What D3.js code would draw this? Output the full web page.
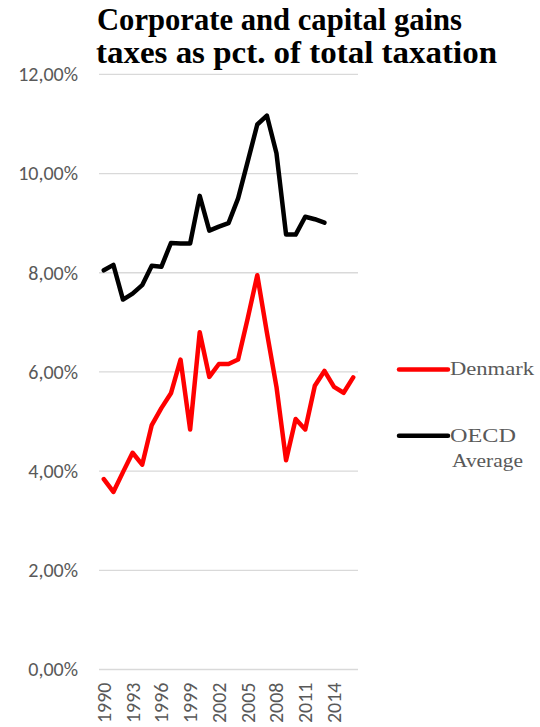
<!DOCTYPE html>
<html>
<head>
<meta charset="utf-8">
<script src="https://cdn.jsdelivr.net/npm/d3@7/dist/d3.min.js"></script>
<style>
  html, body { margin: 0; padding: 0; background: #ffffff; }
  svg { display: block; }
</style>
</head>
<body>
<svg id="chart" width="540" height="727"></svg>
<script>
// Corporate and capital gains taxes, share of total taxation (%)
const years = [1990, 1991, 1992, 1993, 1994, 1995, 1996, 1997, 1998, 1999,
               2000, 2001, 2002, 2003, 2004, 2005, 2006, 2007, 2008, 2009,
               2010, 2011, 2012, 2013, 2014, 2015, 2016];
const denmark = [3.84, 3.58, 3.98, 4.37, 4.13, 4.93, 5.27, 5.57, 6.25, 4.84,
                 6.80, 5.90, 6.16, 6.16, 6.25, 7.08, 7.95, 6.80, 5.70, 4.22,
                 5.05, 4.84, 5.72, 6.02, 5.70, 5.58, 5.89];
const oecd = [8.05, 8.16, 7.46, 7.58, 7.75, 8.14, 8.12, 8.60, 8.59, 8.59,
              9.55, 8.85, 8.93, 9.00, 9.50, 10.24, 10.99, 11.17, 10.41, 8.77,
              8.77, 9.13, 9.08, 9.01, null, null, null];
const yTicks = [0, 2, 4, 6, 8, 10, 12];
const xTickLabels = [1990, 1993, 1996, 1999, 2002, 2005, 2008, 2011, 2014];
const seriesNames = ["Denmark", "OECD Average"];
const titleLines = ["Corporate and capital gains", "taxes as pct. of  total taxation"];

const svg = d3.select("#chart");
const plot = { left: 99, right: 358, top: 74.4, bottom: 669.5 };

const x = d3.scaleBand().domain(years).range([plot.left, plot.right]);
const y = d3.scaleLinear().domain([0, 12]).range([plot.bottom, plot.top]);
const xc = d => x(d) + x.bandwidth() / 2;

// Title
const title = svg.append("g")
  .attr("font-family", "'Liberation Serif', 'Times New Roman', serif")
  .attr("font-weight", "bold")
  .attr("font-size", 31)
  .attr("fill", "#000");
title.append("text").attr("x", 97).attr("y", 30)
  .attr("textLength", 365).attr("lengthAdjust", "spacingAndGlyphs")
  .text(titleLines[0]);
title.append("text").attr("x", 96).attr("y", 63)
  .attr("textLength", 401).attr("lengthAdjust", "spacingAndGlyphs")
  .text(titleLines[1]);

// Gridlines
svg.append("g").selectAll("line").data(yTicks).join("line")
  .attr("x1", plot.left).attr("x2", plot.right)
  .attr("y1", d => y(d)).attr("y2", d => y(d))
  .attr("stroke", "#d9d9d9").attr("stroke-width", 1.3);

// Y axis labels
const fmt = d => d3.format(".2f")(d).replace(".", ",") + "%";
const yAxis = svg.append("g")
  .attr("transform", "translate(78,0)")
  .call(d3.axisLeft(y).tickValues(yTicks).tickSize(0).tickPadding(0).tickFormat(fmt));
yAxis.select(".domain").remove();
yAxis.selectAll("text")
  .attr("font-family", "Carlito, Calibri, 'Liberation Sans', Arial, sans-serif")
  .attr("font-size", 20)
  .attr("fill", "#595959");

// X axis labels (rotated)
const xAxis = svg.append("g")
  .attr("transform", `translate(0,${plot.bottom})`)
  .call(d3.axisBottom(x).tickValues(xTickLabels).tickSize(0).tickPadding(0));
xAxis.select(".domain").remove();
xAxis.selectAll("text")
  .attr("font-family", "Carlito, Calibri, 'Liberation Sans', Arial, sans-serif")
  .attr("font-size", 20)
  .attr("fill", "#595959")
  .attr("transform", "rotate(-90)")
  .attr("text-anchor", "end")
  .attr("x", -13)
  .attr("y", 0)
  .attr("dy", "0.35em");

// Lines
const line = d3.line()
  .defined(d => d.v != null)
  .x(d => xc(d.year))
  .y(d => y(d.v));

const series = [
  { name: seriesNames[0], color: "#ff0000", values: denmark },
  { name: seriesNames[1], color: "#000000", values: oecd }
];

series.forEach(s => {
  svg.append("path")
    .datum(years.map((yr, i) => ({ year: yr, v: s.values[i] })))
    .attr("fill", "none")
    .attr("stroke", s.color)
    .attr("stroke-width", 4.5)
    .attr("stroke-linejoin", "round")
    .attr("stroke-linecap", "round")
    .attr("d", line);
});

// Legend
const legend = svg.append("g")
  .attr("font-family", "'Liberation Serif', 'Times New Roman', serif")
  .attr("font-size", 19)
  .attr("fill", "#595959");

legend.append("line").attr("x1", 399).attr("x2", 448).attr("y1", 369.5).attr("y2", 369.5)
  .attr("stroke", series[0].color).attr("stroke-width", 4.5).attr("stroke-linecap", "round");
legend.append("text").attr("x", 450).attr("y", 375)
  .attr("textLength", 84).attr("lengthAdjust", "spacingAndGlyphs")
  .text("Denmark");

legend.append("line").attr("x1", 399).attr("x2", 448).attr("y1", 435.7).attr("y2", 435.7)
  .attr("stroke", series[1].color).attr("stroke-width", 4.5).attr("stroke-linecap", "round");
legend.append("text").attr("x", 450).attr("y", 442)
  .attr("textLength", 66).attr("lengthAdjust", "spacingAndGlyphs")
  .text(seriesNames[1].split(" ")[0]);
legend.append("text").attr("x", 452).attr("y", 467)
  .attr("textLength", 71).attr("lengthAdjust", "spacingAndGlyphs")
  .text(seriesNames[1].split(" ")[1]);
</script>
</body>
</html>
